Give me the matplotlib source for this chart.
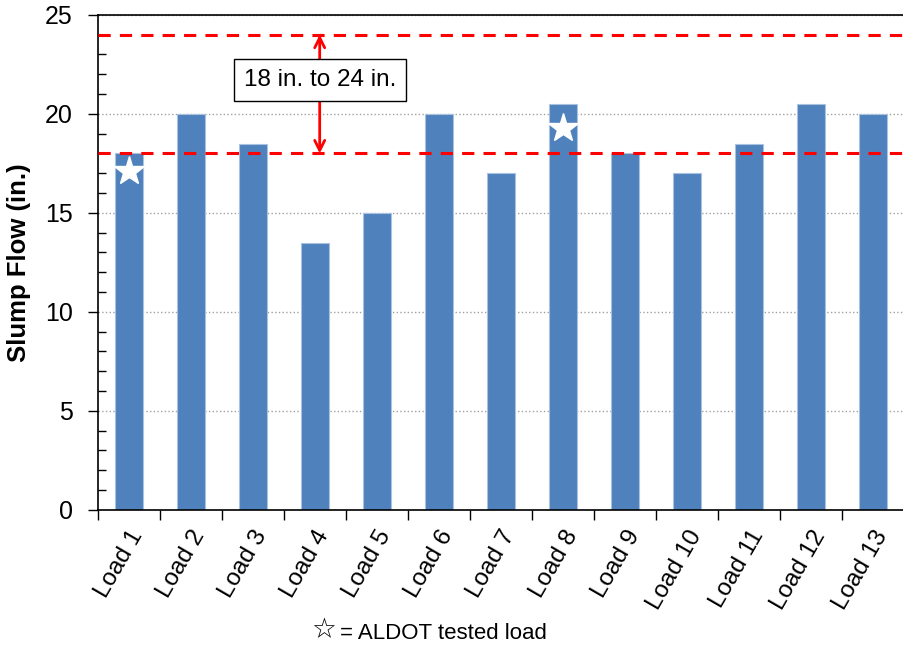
import matplotlib
matplotlib.use('Agg')
import matplotlib.pyplot as plt
from matplotlib.ticker import MultipleLocator
import numpy as np

plt.rcParams['font.family'] = ['Liberation Sans', 'DejaVu Sans']

loads = ['Load 1', 'Load 2', 'Load 3', 'Load 4', 'Load 5', 'Load 6', 'Load 7',
         'Load 8', 'Load 9', 'Load 10', 'Load 11', 'Load 12', 'Load 13']
slump = [18, 20, 18.5, 13.5, 15, 20, 17, 20.5, 18, 17, 18.5, 20.5, 20]
# ALDOT tested loads (index, star height)
star_idx = [0, 7]
star_y = [17.1, 19.3]
spec_lo, spec_hi = 18, 24

fig = plt.figure(figsize=(9.04, 6.47), dpi=100)
ax = fig.add_axes([0.108, 0.212, 0.892, 0.765])

x = np.arange(len(loads))
ax.bar(x, slump, width=0.45, color='#4f81bd', edgecolor='#a9c2e0', linewidth=0.8, zorder=2)
ax.plot(star_idx, star_y, linestyle='none', marker='*', markersize=22,
        color='white', zorder=3)

ax.axhline(spec_lo, color='red', linestyle=(0, (4, 3)), linewidth=2.2, zorder=4)
ax.axhline(spec_hi, color='red', linestyle=(0, (4, 3)), linewidth=2.2, zorder=4)
ax.annotate('', xy=(3.08, spec_hi), xytext=(3.08, spec_lo),
            arrowprops=dict(arrowstyle='<->', color='red', lw=2,
                            mutation_scale=18, shrinkA=0, shrinkB=0), zorder=5)
ax.text(3.08, 21.7, '18 in. to 24 in.', fontsize=17.5, ha='center', va='center',
        bbox=dict(boxstyle='square,pad=0.4', facecolor='white', edgecolor='black',
                  linewidth=1), zorder=6)

ax.set_xlim(-0.5, len(loads) - 0.5)
ax.set_ylim(0, 25)
ax.yaxis.set_major_locator(MultipleLocator(5))
ax.yaxis.set_minor_locator(MultipleLocator(1))
ax.yaxis.grid(True, which='major', color='#a0a0a0', linestyle=':', linewidth=1, zorder=0)
ax.set_axisbelow(True)
ax.tick_params(axis='y', which='major', direction='out', length=7, width=1,
               labelsize=18, pad=11)
ax.tick_params(axis='y', which='minor', direction='in', length=6, width=1)

ax.set_xticks(x)
ax.set_xticklabels(loads, rotation=60, ha='right', rotation_mode='anchor', fontsize=17.5)
ax.tick_params(axis='x', which='major', length=0, pad=12)
ax.set_xticks(np.arange(len(loads) + 1) - 0.5, minor=True)
ax.tick_params(axis='x', which='minor', direction='out', length=7, width=1)

ax.spines['right'].set_visible(False)
ax.spines['top'].set_linewidth(1.2)
ax.spines['left'].set_linewidth(1.2)
ax.spines['bottom'].set_linewidth(1.2)

ax.set_ylabel('Slump Flow (in.)', fontsize=18.5, fontweight='bold', labelpad=10)

fig.text(0.372, 0.004, '\u2606', fontsize=20, family=['DejaVu Sans'], ha='right', va='bottom')
fig.text(0.376, 0.004, '= ALDOT tested load', fontsize=16, ha='left', va='bottom')

fig.savefig('out.png', dpi=100)
